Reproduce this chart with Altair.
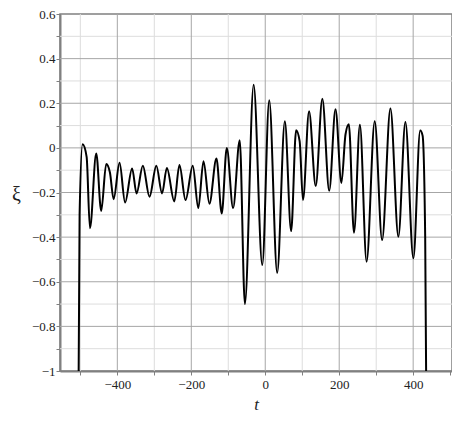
import altair as alt
import pandas as pd

# curve (extrema and shoulders)
t_vals = [-504.5, -502, -494, -483, -474, -457, -443.6, -430, -420, -410, -394, -379,
          -360, -348, -331, -313, -294.5, -279, -266, -246, -232, -215.5, -196, -181,
          -167, -151, -132, -117.6, -104, -87, -69, -55, -31.4, -8, 10.8, 32.3, 53, 70,
          83.5, 93, 102, 118.5, 136.5, 154.4, 173, 190, 206, 217, 226, 240, 256, 274,
          296, 316, 338.5, 360, 379, 400.5, 419, 425.5, 432.5, 435]
xi_vals = [-1.0, -0.3, 0.016, -0.04, -0.36, -0.025, -0.283, -0.072, -0.11, -0.23, -0.067, -0.245,
           -0.092, -0.204, -0.08, -0.219, -0.08, -0.204, -0.09, -0.24, -0.077, -0.234, -0.08, -0.27,
           -0.06, -0.25, -0.048, -0.294, 0.0, -0.27, 0.034, -0.70, 0.283, -0.525, 0.213, -0.56, 0.119, -0.373,
           0.079, 0.03, -0.234, 0.164, -0.171, 0.22, -0.192, 0.173, -0.157, 0.06, 0.106, -0.38, 0.104, -0.51,
           0.119, -0.413, 0.176, -0.398, 0.116, -0.495, 0.078, 0.055, -0.4, -1.0]

x_major = [-400, -200, 0, 200, 400]
x_minor = [-500, -300, -100, 100, 300]
y_major = [-0.8, -0.6, -0.4, -0.2, 0.0, 0.2, 0.4]
y_minor = [-0.9, -0.7, -0.5, -0.3, -0.1, 0.1, 0.3, 0.5]
x_ticks = [-500, -400, -300, -200, -100, 0, 100, 200, 300, 400, 500]
y_ticks = [-1.0, -0.9, -0.8, -0.7, -0.6, -0.5, -0.4, -0.3, -0.2, -0.1, 0.0, 0.1, 0.2, 0.3, 0.4, 0.5, 0.6]

XDOM = [-555, 505]
YDOM = [-1.0, 0.6]
FONT = "'Liberation Serif', 'Times New Roman', serif"

curve = pd.DataFrame({"t": t_vals, "xi": xi_vals})

xscale = alt.Scale(domain=XDOM, nice=False, zero=False)
yscale = alt.Scale(domain=YDOM, nice=False, zero=False)

xaxis = alt.Axis(values=x_ticks, grid=False, tickSize=4, tickColor="#808080",
                 domainColor="#808080", domainWidth=2, labelFont=FONT, labelFontSize=13,
                 labelColor="#222222", labelPadding=3,
                 labelExpr="abs(datum.value) % 200 == 0 ? datum.label : ''",
                 title="t", titleFont=FONT, titleFontStyle="italic", titleFontWeight="normal",
                 titleFontSize=17, titleColor="#222222", titlePadding=5)
yaxis = alt.Axis(values=y_ticks, grid=False, tickSize=4, tickColor="#808080",
                 domainColor="#808080", domainWidth=2, labelFont=FONT, labelFontSize=13,
                 labelColor="#222222", labelPadding=1, format=".1~f",
                 labelExpr="abs(round(datum.value*10)) % 2 == 0 ? datum.label : ''",
                 title="ξ", titleFont=FONT, titleFontWeight="normal", titleFontSize=20,
                 titleColor="#222222", titleAngle=0, titleX=-44, titleY=180,
                 titleAlign="center", titleBaseline="middle")

gx_minor = alt.Chart(pd.DataFrame({"g": x_minor})).mark_rule(color="#dddddd", strokeWidth=1).encode(
    x=alt.X("g:Q", scale=xscale, axis=xaxis))
gy_minor = alt.Chart(pd.DataFrame({"g": y_minor})).mark_rule(color="#dddddd", strokeWidth=1).encode(
    y=alt.Y("g:Q", scale=yscale, axis=yaxis))
gx_major = alt.Chart(pd.DataFrame({"g": x_major})).mark_rule(color="#a6a6a6", strokeWidth=1).encode(
    x=alt.X("g:Q", scale=xscale, axis=xaxis))
gy_major = alt.Chart(pd.DataFrame({"g": y_major})).mark_rule(color="#a6a6a6", strokeWidth=1).encode(
    y=alt.Y("g:Q", scale=yscale, axis=yaxis))

line = alt.Chart(curve).mark_line(color="black", strokeWidth=2, interpolate="monotone", clip=True).encode(
    x=alt.X("t:Q", scale=xscale, axis=xaxis),
    y=alt.Y("xi:Q", scale=yscale, axis=yaxis),
)

chart = alt.layer(gx_minor, gy_minor, gx_major, gy_major, line).properties(
    width=392, height=357,
    autosize=alt.AutoSizeParams(type="none"),
    padding={"left": 52, "top": 6, "right": 0, "bottom": 44},
    background="white",
).configure_view(stroke="#808080", strokeWidth=1.5)

chart.save("out.html", embed_options={"renderer": "svg", "actions": False})
